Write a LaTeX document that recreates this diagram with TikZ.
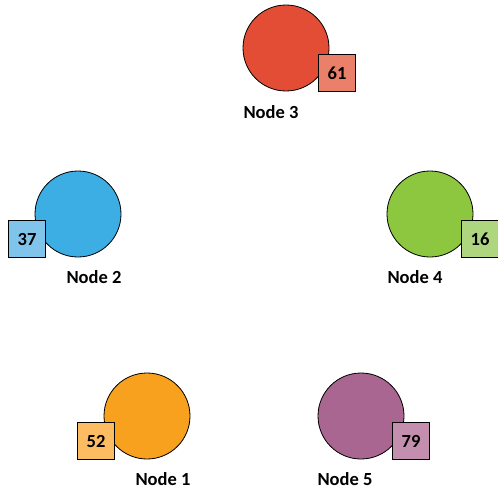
\documentclass[tikz,border=0pt]{standalone}
\usepackage{fontspec}
\setmainfont{Carlito}
\begin{document}
\begin{tikzpicture}[x=1pt,y=-1pt,
  circ/.style={circle,draw=black,line width=0.8pt,minimum size=86pt,inner sep=0pt},
  val/.style={rectangle,draw=black,line width=0.8pt,minimum size=37pt,inner sep=0pt,font=\bfseries\fontsize{18.5}{20}\selectfont},
  lbl/.style={inner sep=0pt,font=\bfseries\fontsize{18.5}{20}\selectfont}]
\useasboundingbox (0,0) rectangle (498,487);
\definecolor{c3}{HTML}{E34D36}\definecolor{s3}{HTML}{EA806A}
\definecolor{c2}{HTML}{3CAEE3}\definecolor{s2}{HTML}{80C4EB}
\definecolor{c4}{HTML}{8DC63F}\definecolor{s4}{HTML}{AED67E}
\definecolor{c1}{HTML}{F7A11E}\definecolor{s1}{HTML}{FBBC62}
\definecolor{c5}{HTML}{A96690}\definecolor{s5}{HTML}{C48EAF}
% Node 3
\node[circ,fill=c3] (n3) at (286,48) {};
\node[val,fill=s3] (v3) at (337,73) {61};
\node[lbl] (l3) at (271,112) {Node 3};
% Node 2
\node[circ,fill=c2] (n2) at (78,214) {};
\node[val,fill=s2] (v2) at (27,239) {37};
\node[lbl] (l2) at (94,277) {Node 2};
% Node 4
\node[circ,fill=c4] (n4) at (430,214) {};
\node[val,fill=s4] (v4) at (480,239) {16};
\node[lbl] (l4) at (415,277) {Node 4};
% Node 1
\node[circ,fill=c1] (n1) at (147,416) {};
\node[val,fill=s1] (v1) at (96,441) {52};
\node[lbl] (l1) at (163,479) {Node 1};
% Node 5
\node[circ,fill=c5] (n5) at (361,416) {};
\node[val,fill=s5] (v5) at (411,441) {79};
\node[lbl] (l5) at (345,479) {Node 5};
\end{tikzpicture}
\end{document}
